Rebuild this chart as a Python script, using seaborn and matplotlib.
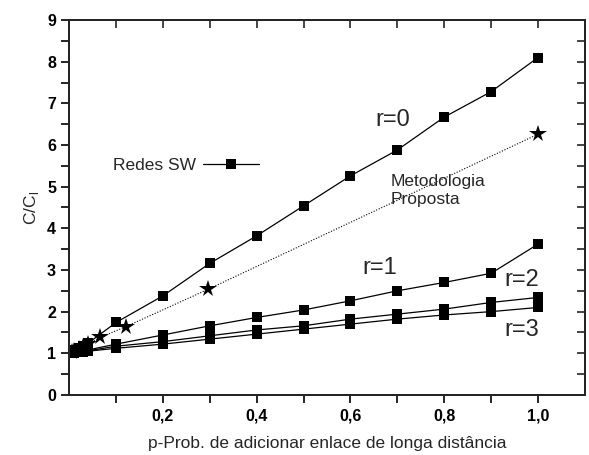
import matplotlib
matplotlib.use("Agg")
import matplotlib.pyplot as plt
import pandas as pd
import seaborn as sns
from matplotlib.lines import Line2D
from matplotlib.ticker import MultipleLocator, FixedLocator

# p values for the simulated small-world networks
p = [0.001, 0.005, 0.01, 0.02, 0.03, 0.04, 0.1, 0.2, 0.3, 0.4, 0.5, 0.6, 0.7, 0.8, 0.9, 1.0]
r0 = [1.0, 1.03, 1.07, 1.12, 1.18, 1.24, 1.74, 2.38, 3.16, 3.82, 4.54, 5.26, 5.88, 6.67, 7.28, 8.1]
r1 = [1.0, 1.01, 1.02, 1.04, 1.06, 1.08, 1.22, 1.44, 1.66, 1.86, 2.04, 2.26, 2.50, 2.70, 2.92, 3.62]
r2 = [1.0, 1.01, 1.02, 1.03, 1.04, 1.06, 1.17, 1.28, 1.42, 1.56, 1.66, 1.82, 1.94, 2.06, 2.22, 2.34]
r3 = [1.0, 1.0, 1.01, 1.02, 1.03, 1.05, 1.12, 1.22, 1.34, 1.46, 1.58, 1.70, 1.82, 1.92, 2.00, 2.10]

# proposed methodology
p_prop = [0.005, 0.01, 0.02, 0.03, 0.04, 0.066, 0.121, 0.297, 1.0]
prop = [1.03, 1.06, 1.11, 1.16, 1.22, 1.38, 1.64, 2.54, 6.26]

xticks = [0.2, 0.4, 0.6, 0.8, 1.0]
xtick_labels = ["0,2", "0,4", "0,6", "0,8", "1,0"]
xminor = [0.1, 0.3, 0.5, 0.7, 0.9]

sns.set_style("ticks")
plt.rcParams["font.family"] = ["Liberation Sans", "DejaVu Sans"]
plt.rcParams["mathtext.fontset"] = "custom"
plt.rcParams["mathtext.rm"] = "Liberation Sans"

fig = plt.figure(figsize=(5.89, 4.55), dpi=100)
ax = fig.add_axes([0.1175, 0.132, 0.8755, 0.824])

for ys in [r0, r1, r2, r3]:
    df = pd.DataFrame({"p": p, "C": ys})
    sns.lineplot(data=df, x="p", y="C", ax=ax, color="black", lw=0.9,
                 marker="s", markersize=7, markeredgewidth=0,
                 sort=False, estimator=None)

dfp = pd.DataFrame({"p": p_prop, "C": prop})
sns.lineplot(data=dfp, x="p", y="C", ax=ax, color="black", lw=0.8,
             linestyle=(0, (1, 1.5)), marker="*", markersize=13,
             markeredgewidth=0, sort=False, estimator=None)

ax.set_xlim(0, 1.1)
ax.set_ylim(0, 9)
ax.xaxis.set_major_locator(FixedLocator(xticks))
ax.xaxis.set_minor_locator(FixedLocator(xminor))
ax.yaxis.set_major_locator(MultipleLocator(1))
ax.yaxis.set_minor_locator(MultipleLocator(0.5))
ax.set_xticklabels(xtick_labels)

for s in ax.spines.values():
    s.set_linewidth(1.3)
    s.set_color("black")
ax.tick_params(which="both", direction="out", length=6, width=1.2,
               labelsize=11.5, colors="black", top=False, right=False)
for lab in ax.get_xticklabels() + ax.get_yticklabels():
    lab.set_fontweight("bold")

# mirrored inward ticks on top and right
top = ax.twiny()
top.set_xlim(ax.get_xlim())
top.xaxis.set_major_locator(FixedLocator(xticks))
top.xaxis.set_minor_locator(FixedLocator(xminor))
top.tick_params(which="both", direction="in", labeltop=False, width=1.2, length=6)
right = ax.twinx()
right.set_ylim(ax.get_ylim())
right.yaxis.set_major_locator(MultipleLocator(1))
right.yaxis.set_minor_locator(MultipleLocator(0.5))
right.tick_params(which="both", direction="in", labelright=False, width=1.2, length=6)
for a in [top, right]:
    for s in a.spines.values():
        s.set_linewidth(1.3)

ax.set_xlabel("p-Prob. de adicionar enlace de longa distância", fontsize=12.5, labelpad=9)
ax.set_ylabel("C/C$_{\\mathrm{l}}$", fontsize=12.5, labelpad=4)

ax.text(0.69, 6.6, "r=0", fontsize=17, ha="center", va="center")
ax.text(0.663, 3.05, "r=1", fontsize=17, ha="center", va="center")
ax.text(0.965, 2.76, "r=2", fontsize=17, ha="center", va="center")
ax.text(0.965, 1.56, "r=3", fontsize=17, ha="center", va="center")
ax.text(0.685, 4.9, "Metodologia\nProposta", fontsize=12.5, ha="left", va="center",
        linespacing=1.25)

handle = Line2D([], [], color="black", lw=0.9, marker="s", markersize=7, markeredgewidth=0)
ax.legend([handle], ["Redes SW"], loc="center left", bbox_to_anchor=(0.055, 0.613),
          frameon=False, markerfirst=False, handlelength=3.2, fontsize=12.5,
          handletextpad=0.4)

fig.savefig("out.png", dpi=100)
